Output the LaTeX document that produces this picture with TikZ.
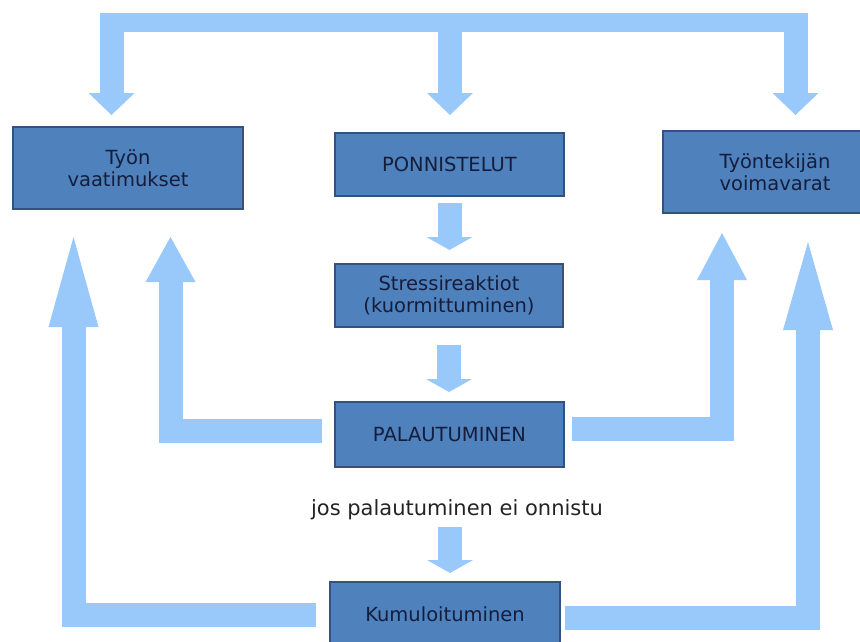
\documentclass[tikz,border=0pt]{standalone}
\usepackage{fontspec}
\setmainfont{DejaVu Sans}
\usetikzlibrary{arrows.meta}
\definecolor{boxblue}{RGB}{79,129,189}
\definecolor{boxedge}{RGB}{52,82,126}
\definecolor{flowblue}{RGB}{153,201,250}
\definecolor{textnavy}{RGB}{20,30,60}
\definecolor{textgray}{RGB}{35,35,35}
\begin{document}
\begin{tikzpicture}[x=1pt, y=-1pt,
    box/.style={draw=boxedge, line width=2pt, fill=boxblue, text=textnavy, align=center, inner sep=0pt, font=\fontsize{19.5}{22.5}\selectfont},
    flow/.style={draw=flowblue, line width=24pt, line join=miter},
    head/.style 2 args={-{Triangle[length=#1, width=#2, line width=0pt]}}]
        \clip (0,0) rectangle (860,641);

        \node[box, minimum width=230pt, minimum height=82pt] (1) at (128,168) {Työn\\vaatimukset};
        \node[box, minimum width=229pt, minimum height=63pt] (2) at (449.5,164.5) {PONNISTELUT};
        \node[box, minimum width=224pt, minimum height=82pt] (3) at (775,172) {Työntekijän\\voimavarat};
        \node[box, minimum width=228pt, minimum height=63pt] (4) at (449,295.5) {Stressireaktiot\\(kuormittuminen)};
        \node[box, minimum width=229pt, minimum height=65pt] (5) at (449.5,434.5) {PALAUTUMINEN};
        \node[text=textgray, font=\fontsize{21}{24}\selectfont] (6) at (457,510) {jos palautuminen ei onnistu};
        \node[box, minimum width=230pt, minimum height=65pt] (7) at (445,614.5) {Kumuloituminen};

        \fill[flowblue] (100,13) rectangle (808,32);
        \coordinate (t1) at (111.5,22.5);
        \coordinate (t2) at (450,22.5);
        \coordinate (t3) at (795.5,22.5);

        \draw[flow, head={22pt}{46pt}, shorten >=11pt] (t1) -- (t1 |- 1.north);
        \draw[flow, head={22pt}{46pt}, shorten >=17pt] (t2) -- (t2 |- 2.north);
        \draw[flow, head={22pt}{46pt}, shorten >=15pt] (t3) -- (t3 |- 3.north);

        \draw[flow, head={13pt}{46pt}, shorten <=6pt, shorten >=13pt] (2.south) -- (2.south |- 4.north);
        \draw[flow, head={13pt}{46pt}, shorten <=17pt, shorten >=9pt] (4.south) -- (4.south |- 5.north);
        \draw[flow, head={13pt}{46pt}, shorten >=8pt] ([yshift=-17pt]t2 |- 6.center) -- (t2 |- 7.north);

        \draw[flow, head={45pt}{50pt}, shorten <=12pt, shorten >=27pt] ([yshift=4pt]5.west) -| ([xshift=42.5pt]1.south);
        \draw[flow, head={90pt}{50pt}, shorten <=13pt, shorten >=27pt] (7.west) -| ([xshift=-54.5pt]1.south);
        \draw[flow, head={47pt}{50pt}, shorten <=7pt, shorten >=19pt] ([yshift=6pt]5.east) -| ([xshift=-53pt]3.south);
        \draw[flow, head={88pt}{50pt}, shorten <=4pt, shorten >=28pt] ([yshift=-3pt]7.east) -| ([xshift=33pt]3.south);
      \end{tikzpicture}
\end{document}
